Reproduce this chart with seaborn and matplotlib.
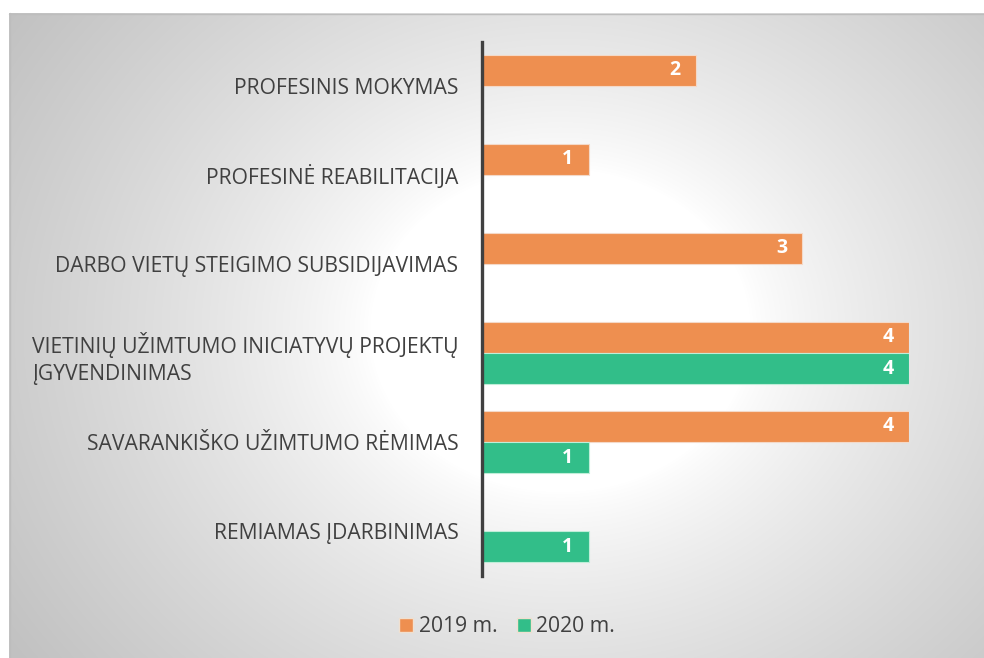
import matplotlib
matplotlib.use("Agg")
import matplotlib.pyplot as plt
import numpy as np
import pandas as pd
import seaborn as sns

# Duomenys
categories = [
    "PROFESINIS MOKYMAS",
    "PROFESINĖ REABILITACIJA",
    "DARBO VIETŲ STEIGIMO SUBSIDIJAVIMAS",
    "VIETINIŲ UŽIMTUMO INICIATYVŲ PROJEKTŲ\nĮGYVENDINIMAS",
    "SAVARANKIŠKO UŽIMTUMO RĖMIMAS",
    "REMIAMAS ĮDARBINIMAS",
]
series = ["2019 m.", "2020 m."]
values_2019 = [2, 1, 3, 4, 4, 0]
values_2020 = [0, 0, 0, 4, 1, 1]
colors = ["#EE8F50", "#32BE89"]

df = pd.DataFrame({
    "category": categories * 2,
    "metai": [series[0]] * len(categories) + [series[1]] * len(categories),
    "value": values_2019 + values_2020,
})

sns.set_style("white")
plt.rcParams["font.family"] = ["Open Sans", "DejaVu Sans"]
text_color = "#404040"

fig = plt.figure(figsize=(9.84, 6.58), dpi=100)

# Fonas su radialiniu gradientu
bg = fig.add_axes([0, 0, 1, 1], zorder=-1)
bg.set_xlim(0, 984)
bg.set_ylim(658, 0)
bg.axis("off")
px, py = np.meshgrid(np.arange(9, 984), np.arange(13, 658))
d = np.sqrt(((px - 560) / 1.0) ** 2 + ((py - 330) / 0.85) ** 2)
t = np.clip((d - 190) / 470, 0, 1) ** 0.8
shade = 1 - 0.24 * t
rgb = np.dstack([shade, shade, shade])
bg.imshow(rgb, extent=(9, 984, 658, 13), aspect="auto", interpolation="bilinear")
bg.plot([9, 984], [13.5, 13.5], color="#bdbdbd", lw=1)
bg.plot([9.5, 9.5], [13, 658], color="#bdbdbd", lw=1)

# Pagrindinė ašis
ax = fig.add_axes([482 / 984, (658 - 575.5) / 658, 427 / 984, 534 / 658])
ax.set_facecolor("none")
sns.barplot(data=df, y="category", x="value", hue="metai", orient="h",
            palette=colors, width=0.7, ax=ax, legend=False,
            edgecolor="#f4d9c8", linewidth=0.8, saturation=1)
for patch in ax.patches:
    if patch.get_facecolor()[1] > 0.6:
        patch.set_edgecolor("#bfeed8")

ax.set_xlim(0, 4)
ax.set_ylim(5.5, -0.5)
ax.set_xlabel("")
ax.set_ylabel("")
ax.set_xticks([])
for s in ["top", "right", "bottom"]:
    ax.spines[s].set_visible(False)
ax.spines["left"].set_color(text_color)
ax.spines["left"].set_linewidth(2.4)
ax.tick_params(axis="y", length=0, pad=17)
for lbl in ax.get_yticklabels():
    lbl.set_fontsize(15.2)
    lbl.set_color(text_color)
    lbl.set_multialignment("left")
    lbl.set_linespacing(1.35)

# Reikšmių žymės
for patch in ax.patches:
    w = patch.get_width()
    if w > 0:
        ax.annotate(f"{int(w)}", xy=(w, patch.get_y() + patch.get_height() / 2),
                    xytext=(-11, 0), textcoords="offset points",
                    ha="right", va="center", color="white",
                    fontsize=14, fontweight="bold")

# Legenda
handles = [plt.Line2D([], [], marker="s", linestyle="none", markersize=10,
                      markerfacecolor=c, markeredgecolor="#f0e0d0", label=s)
           for c, s in zip(colors, series)]
fig.legend(handles=handles, loc="center", bbox_to_anchor=(507 / 984, 1 - 627 / 658),
           ncol=2, frameon=False, fontsize=15.2, labelcolor=text_color,
           handletextpad=0.25, columnspacing=0.9, handlelength=0.7)

fig.savefig("out.png", dpi=100)
